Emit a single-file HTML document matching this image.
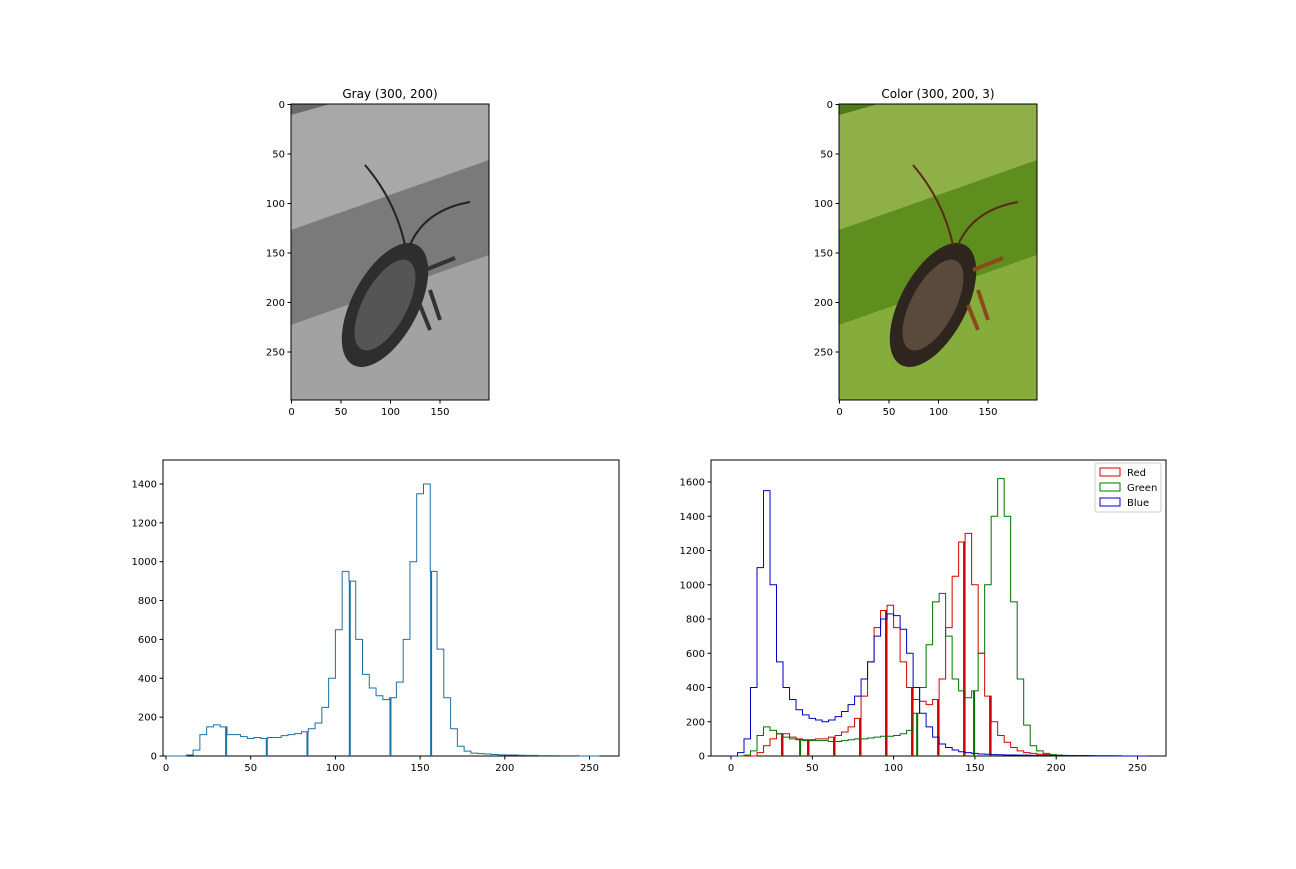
<!DOCTYPE html>
<html><head><meta charset="utf-8"><style>
body{margin:0;background:#fff;font-family:"Liberation Sans","DejaVu Sans",sans-serif}
svg text{font-family:"DejaVu Sans","Liberation Sans",sans-serif;font-size:10px;fill:#000}
</style></head><body>
<svg id="fig" width="1296" height="864" viewBox="0 0 1296 864" xmlns="http://www.w3.org/2000/svg">
<defs>
<clipPath id="cg"><rect x="291" y="104" width="198" height="296"/></clipPath>
<clipPath id="cc"><rect x="839" y="104" width="198" height="296"/></clipPath>
</defs>
<g id="imgGray" clip-path="url(#cg)">
<rect x="291" y="104" width="198" height="296" fill="#a8a8a8"/>
<polygon points="291,104 330,104 291,115" fill="#6a6a6a"/>
<polygon points="291,230 489,160 489,255 291,325" fill="#7a7a7a"/>
<polygon points="291,325 489,255 489,400 291,400" fill="#a2a2a2"/>
<g transform="rotate(-62 385 305)"><ellipse cx="385" cy="305" rx="68" ry="33" fill="#2e2e2e"/><ellipse cx="385" cy="305" rx="50" ry="22" fill="#555"/></g>
<path d="M405 245 Q395 200 365 165 M410 245 Q425 210 470 202" stroke="#222" stroke-width="2" fill="none"/>
<path d="M425 270 L455 258 M430 290 L440 320 M420 305 L430 330" stroke="#333" stroke-width="4" fill="none"/>
</g>
<rect x="291" y="104" width="198" height="296" fill="none" stroke="#000" stroke-width="1"/>
<g id="imgColor" clip-path="url(#cc)">
<rect x="839" y="104" width="198" height="296" fill="#8fb048"/>
<polygon points="839,104 878,104 839,115" fill="#4e7a1c"/>
<polygon points="839,230 1037,160 1037,255 839,325" fill="#5e8e1e"/>
<polygon points="839,325 1037,255 1037,400 839,400" fill="#86ad3c"/>
<g transform="rotate(-62 933 305)"><ellipse cx="933" cy="305" rx="68" ry="33" fill="#2e261e"/><ellipse cx="933" cy="305" rx="50" ry="22" fill="#5a4a3c"/></g>
<path d="M953 245 Q943 200 913 165 M958 245 Q973 210 1018 202" stroke="#5a2a14" stroke-width="2" fill="none"/>
<path d="M973 270 L1003 258 M978 290 L988 320 M968 305 L978 330" stroke="#8a4a1c" stroke-width="4" fill="none"/>
</g>
<rect x="839" y="104" width="198" height="296" fill="none" stroke="#000" stroke-width="1"/>
<text x="390" y="98" text-anchor="middle" style="font-size:12px">Gray (300, 200)</text>
<text x="938" y="98" text-anchor="middle" style="font-size:12px">Color (300, 200, 3)</text>
<g id="axes"></g>
<g id="hist"></g>
<g>
<rect x="1095" y="463" width="66" height="49" fill="#fff" stroke="#ccc" rx="2"/>
<rect x="1100" y="468" width="20" height="8" fill="none" stroke="#d00000"/>
<text x="1127" y="476">Red</text>
<rect x="1100" y="483" width="20" height="8" fill="none" stroke="#007000"/>
<text x="1127" y="491">Green</text>
<rect x="1100" y="498" width="20" height="8" fill="none" stroke="#0000c0"/>
<text x="1127" y="506">Blue</text>
</g>
</svg>
<script>
const binStarts=[0,4,8,12,16,20,24,28,32,36,40,44,48,52,56,60,64,68,72,76,80,84,88,92,96,100,104,108,112,116,120,124,128,132,136,140,144,148,152,156,160,164,168,172,176,180,184,188,192,196,200,204,208,212,216,220,224,228,232,236,240,244,248,252];
const grayVals=[0,0,0,5,30,110,150,160,150,110,110,100,90,95,90,95,95,105,110,115,125,140,170,250,400,650,950,900,600,420,350,310,290,300,380,600,1000,1350,1400,950,550,300,140,50,25,15,12,10,8,6,5,5,4,3,3,2,2,2,1,1,1,0,0,0];
const redVals=[0,0,0,0,20,60,100,130,130,110,100,95,95,100,100,110,120,140,170,220,350,550,750,850,880,750,550,400,330,320,300,330,450,750,1050,1250,1300,1000,600,350,200,120,80,50,30,20,15,10,8,5,4,3,3,2,2,2,1,1,1,1,0,0,0,0];
const greenVals=[0,0,5,30,120,170,150,130,110,100,95,90,90,90,90,85,85,90,95,100,100,105,110,115,115,120,130,150,250,400,650,900,950,700,450,380,340,380,600,1000,1400,1620,1400,900,450,180,60,30,15,8,5,4,3,2,2,1,1,1,1,0,0,0,0,0];
const blueVals=[0,20,100,400,1100,1550,1000,550,400,330,270,240,220,210,200,210,230,260,300,350,450,550,700,800,830,820,740,600,400,250,170,110,70,50,35,25,20,15,12,10,8,7,6,6,5,5,4,4,3,3,3,2,2,2,2,1,1,1,1,1,0,0,0,0];
const grayZero=[35,59,83,108,132,156];
const redZero=[31,47,63,79,95,111,127,143,159];
const greenZero=[42,114,149];
const imgYTicks=[0,50,100,150,200,250];
const imgXTicks=[0,50,100,150];
const histXTicks=[0,50,100,150,200,250];
const grayYTicks=[0,200,400,600,800,1000,1200,1400];
const colorYTicks=[0,200,400,600,800,1000,1200,1400,1600];
const NS="http://www.w3.org/2000/svg";
const axesG=document.getElementById('axes'), histG=document.getElementById('hist');
function mk(tag,attrs,parent){const e=document.createElementNS(NS,tag);for(const k in attrs)e.setAttribute(k,attrs[k]);parent.appendChild(e);return e;}
function xTicks(ticks,sx,y0,name){ticks.forEach(t=>{const x=sx(t);
 const l=mk('line',{x1:x,x2:x,y1:y0,y2:y0+3.5,stroke:'#000'},axesG);
 
 
 const tx=mk('text',{x:x,y:y0+15,'text-anchor':'middle'},axesG);tx.textContent=t;
 
 });}
function yTicks(ticks,sy,x0,name){ticks.forEach(t=>{const y=sy(t);
 const l=mk('line',{x1:x0-3.5,x2:x0,y1:y,y2:y,stroke:'#000'},axesG);
 
 
 const tx=mk('text',{x:x0-6,y:y+3.5,'text-anchor':'end'},axesG);tx.textContent=t;
 
 });}
[[291,'gray-image'],[839,'color-image']].forEach(([x0,n])=>{
 xTicks(imgXTicks,v=>x0+0.5+v*0.99,400,n+'-x');
 yTicks(imgYTicks,v=>104.5+v*0.99,x0,n+'-y');});
function panel(L,T,W,H,sx,sy,yt,name){
 const r=mk('rect',{x:L,y:T,width:W,height:H,fill:'none',stroke:'#000'},axesG);
 
 
 xTicks(histXTicks,sx,T+H,name+'-x');yTicks(yt,sy,L,name+'-y');}
const gX=v=>166+v*1.694, gY=v=>756-v*0.1943;
const cX=v=>731+v*1.626, cY=v=>756-v*0.17125;
panel(163,460,456,296,gX,gY,grayYTicks,'gray-hist');
panel(711,460,455,296,cX,cY,colorYTicks,'color-hist');
function series(vals,zeros,sx,sy,color,name,zw){
 let d='M'+sx(0)+','+sy(0);
 binStarts.forEach((b,i)=>{d+=' L'+sx(b)+','+sy(vals[i])+' L'+sx(b+4)+','+sy(vals[i]);});
 d+=' L'+sx(256)+','+sy(0);
 const p=mk('path',{d:d,fill:'none',stroke:color,'stroke-width':1},histG);
 
 
 zeros.forEach(z=>{const i=binStarts.findIndex(b=>z>=b&&z<b+4);const v=vals[i];
  const l=mk('line',{x1:sx(z+0.5),x2:sx(z+0.5),y1:sy(0),y2:sy(v),stroke:color,'stroke-width':zw},histG);
  
  });}
series(grayVals,grayZero,gX,gY,'#1f6f9f','gray',2);
series(redVals,redZero,cX,cY,'#d00000','red',2.5);
series(greenVals,greenZero,cX,cY,'#007000','green',2);
series(blueVals,[],cX,cY,'#0000c0','blue',2);
</script>
</body></html>
